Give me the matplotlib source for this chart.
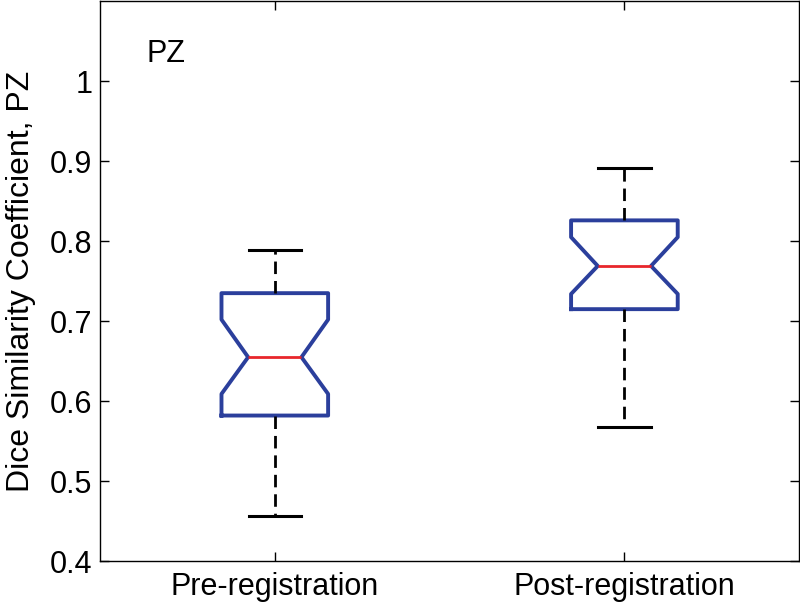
import matplotlib
matplotlib.use("Agg")
import matplotlib.pyplot as plt

plt.rcParams['font.family'] = ['Liberation Sans', 'DejaVu Sans']

labels = ['Pre-registration', 'Post-registration']
whislo = [0.456, 0.568]
q1 = [0.582, 0.715]
med = [0.655, 0.769]
q3 = [0.735, 0.826]
whishi = [0.789, 0.891]
cilo = [0.609, 0.734]
cihi = [0.702, 0.805]

stats = []
for i in range(len(labels)):
    stats.append({'label': labels[i], 'whislo': whislo[i], 'q1': q1[i], 'med': med[i],
                  'q3': q3[i], 'whishi': whishi[i], 'cilo': cilo[i], 'cihi': cihi[i],
                  'fliers': []})

fig = plt.figure(figsize=(8, 6.04), dpi=100)
ax = fig.add_axes([0.125, 0.071, 0.874, 0.927])

ax.bxp(stats, positions=[1, 2], widths=0.305, shownotches=True, showfliers=False,
       boxprops=dict(color='#2b3f9c', linewidth=2.8),
       medianprops=dict(color='#e8262b', linewidth=2),
       whiskerprops=dict(color='black', linewidth=2, linestyle=(0, (4.5, 2.5))),
       capprops=dict(color='black', linewidth=2.2),
       capwidths=0.15)

ax.set_xlim(0.5, 2.5)
ax.set_ylim(0.4, 1.1)
ax.set_yticks([0.4, 0.5, 0.6, 0.7, 0.8, 0.9, 1.0])
ax.set_yticklabels(['0.4', '0.5', '0.6', '0.7', '0.8', '0.9', '1'])
ax.tick_params(direction='in', top=True, right=True, labelsize=22, length=6.5, width=1)
ax.tick_params(axis='y', pad=5.5)
ax.tick_params(axis='x', pad=8)
for s in ax.spines.values():
    s.set_linewidth(1)
ax.set_ylabel('Dice Similarity Coefficient, PZ', fontsize=23)
ax.yaxis.set_label_coords(-0.0916, 0.5)
ax.text(0.067, 0.905, 'PZ', transform=ax.transAxes, fontsize=22, va='center')

fig.savefig('out.png', dpi=100)
